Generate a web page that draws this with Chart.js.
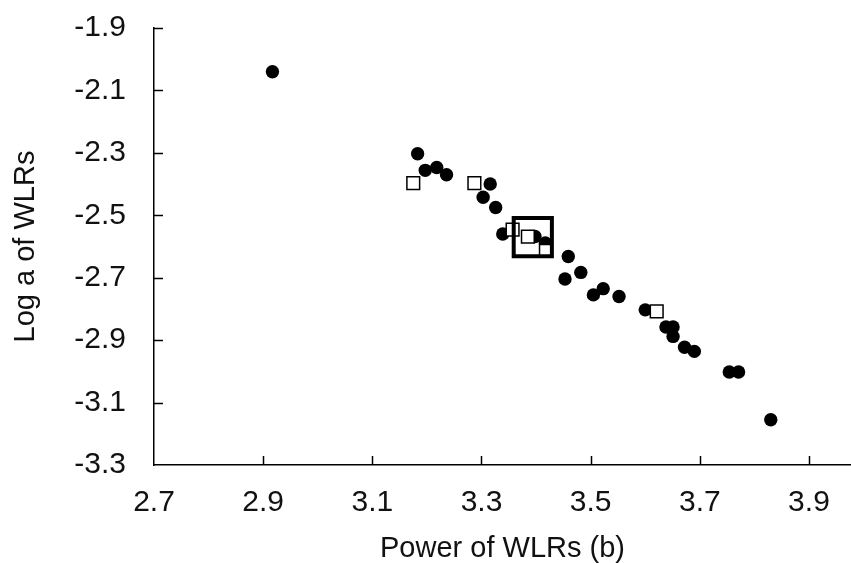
<!DOCTYPE html>
<html>
<head>
<meta charset="utf-8">
<script src="https://cdn.jsdelivr.net/npm/chart.js@4.4.1/dist/chart.umd.min.js"></script>
<style>
  html, body { margin:0; padding:0; background:#fff; overflow:hidden; }
  #wrap { width:851px; height:563px; }
</style>
</head>
<body>
<div id="wrap"><canvas id="myChart" width="851" height="563"></canvas></div>
<script>
// tick labels
var xTicks=[2.7,2.9,3.1,3.3,3.5,3.7,3.9];
var yTicks=[-3.3,-3.1,-2.9,-2.7,-2.5,-2.3,-2.1,-1.9];

// filled circles
var circleX=[2.917,3.183,3.197,3.218,3.236,3.316,3.303,3.326,3.339,3.398,3.417,3.459,3.482,3.453,3.505,3.523,3.552,3.600,3.638,3.651,3.651,3.672,3.690,3.754,3.771,3.830];
var circleY=[-2.040,-2.303,-2.356,-2.347,-2.370,-2.400,-2.442,-2.475,-2.560,-2.568,-2.589,-2.632,-2.683,-2.704,-2.755,-2.735,-2.760,-2.803,-2.858,-2.858,-2.888,-2.923,-2.936,-3.002,-3.002,-3.155];

// open squares
var squareX=[3.175,3.287,3.357,3.385,3.418,3.621];
var squareY=[-2.397,-2.397,-2.546,-2.568,-2.614,-2.808];

// big square (mean)
var bigX=[3.394];
var bigY=[-2.570];

function toPoints(xs,ys){
    var list=[];
    for(var i=0;i<xs.length;i++){
        list.push({x:xs[i],y:ys[i]});
    }
    return list;
}

var fontFam="'Liberation Sans', Arial, sans-serif";

// ticks pointing into the plot
const innerTicks={
    id:'innerTicks',
    afterDraw(chart){
        const ctx=chart.ctx;
        const xs=chart.scales.x, ys=chart.scales.y;
        const area=chart.chartArea;
        ctx.save();
        ctx.strokeStyle='#000';
        ctx.lineWidth=1.5;
        xTicks.forEach(function(v){
            if(v==xs.min) return;
            const px=Math.round(xs.getPixelForValue(v))+0.5;
            ctx.beginPath();
            ctx.moveTo(px,area.bottom);
            ctx.lineTo(px,area.bottom-9);
            ctx.stroke();
        });
        yTicks.forEach(function(v){
            if(v==ys.min) return;
            const py=Math.round(ys.getPixelForValue(v))+0.5;
            ctx.beginPath();
            ctx.moveTo(area.left,py);
            ctx.lineTo(area.left+9,py);
            ctx.stroke();
        });
        ctx.restore();
    }
};

function noPad(axis){
    axis.paddingLeft=0;
    axis.paddingRight=0;
    axis.paddingTop=0;
    axis.paddingBottom=0;
}

const data={
    datasets:[
        {
            label:'mean',
            data:toPoints(bigX,bigY),
            pointStyle:'rect',
            pointRadius:27,
            backgroundColor:'rgba(0,0,0,0)',
            borderColor:'#000',
            borderWidth:4
        },
        {
            label:'squares',
            data:toPoints(squareX,squareY),
            pointStyle:'rect',
            pointRadius:9,
            backgroundColor:'#fff',
            borderColor:'#000',
            borderWidth:1.5
        },
        {
            label:'circles',
            data:toPoints(circleX,circleY),
            pointStyle:'circle',
            pointRadius:6.7,
            backgroundColor:'#000',
            borderColor:'#000',
            borderWidth:0
        }
    ]
};

const config={
    type:'scatter',
    data,
    options:{
        responsive:false,
        animation:false,
        layout:{autoPadding:false,padding:{left:0,right:0,top:28,bottom:0}},
        plugins:{
            legend:{display:false},
            tooltip:{enabled:false}
        },
        scales:{
            x:{
                type:'linear',
                min:2.7,
                max:3.977,
                afterBuildTicks:function(axis){
                    axis.ticks=xTicks.map(function(v){return {value:v};});
                },
                afterFit:function(axis){ axis.height=98; noPad(axis); },
                grid:{display:false,drawTicks:false},
                border:{display:true,color:'#000',width:1.5},
                ticks:{
                    padding:20,
                    color:'#111',
                    font:{family:fontFam,size:30},
                    callback:function(v){ return v.toFixed(1); }
                },
                title:{
                    display:true,
                    text:'Power of WLRs (b)',
                    color:'#111',
                    font:{family:fontFam,size:29,lineHeight:1},
                    padding:{top:0,bottom:0}
                }
            },
            y:{
                type:'linear',
                min:-3.3,
                max:-1.9,
                afterBuildTicks:function(axis){
                    axis.ticks=yTicks.map(function(v){return {value:v};});
                },
                afterFit:function(axis){ axis.width=154; noPad(axis); },
                grid:{display:false,drawTicks:false},
                border:{display:true,color:'#000',width:1.5},
                ticks:{
                    padding:28,
                    color:'#111',
                    font:{family:fontFam,size:30},
                    callback:function(v){ return v.toFixed(1); }
                },
                title:{
                    display:true,
                    text:'Log a of WLRs',
                    color:'#111',
                    font:{family:fontFam,size:29,lineHeight:1},
                    padding:{top:11,bottom:0}
                }
            }
        }
    },
    plugins:[innerTicks]
};

const myChart=new Chart(document.getElementById('myChart'),config);
</script>
</body>
</html>
